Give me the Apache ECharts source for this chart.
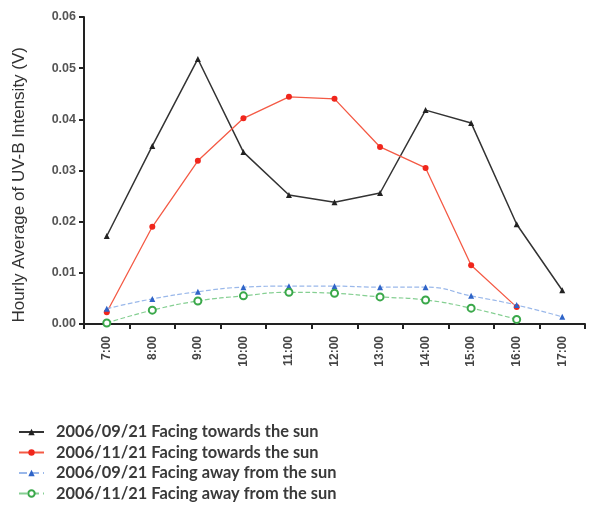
<!DOCTYPE html>
<html><head><meta charset="utf-8">
<script src="https://cdn.jsdelivr.net/npm/echarts@6/dist/echarts.min.js"></script>
<style>html,body{margin:0;padding:0;background:#fff}#c{width:589px;height:510px}</style>
</head><body><div id="c"></div>
<script>
var categories = ['7:00','8:00','9:00','10:00','11:00','12:00','13:00','14:00','15:00','16:00','17:00'];
var sepTowards = [0.0172,0.0348,0.0518,0.0336,0.0252,0.0238,0.0256,0.0418,0.0393,0.0195,0.0066];
var novTowards = [0.0023,0.0190,0.0319,0.0402,0.0444,0.0440,0.0346,0.0305,0.0115,0.0033,null];
var sepAway = [0.0030,0.0049,0.0063,0.0072,0.0074,0.0074,0.0072,0.0072,0.0055,0.0037,0.0014];
var novAway = [0.0002,0.0027,0.0045,0.0055,0.0062,0.0060,0.0053,0.0047,0.0031,0.0009,null];
var seriesNames = ['2006/09/21 Facing towards the sun','2006/11/21 Facing towards the sun','2006/09/21 Facing away from the sun','2006/11/21 Facing away from the sun'];
var yTitle = 'Hourly Average of UV-B Intensity (V)';

var chart = echarts.init(document.getElementById('c'));
chart.setOption({
  animation:false,
  grid:{left:84,right:4,top:17,bottom:186,containLabel:false},
  graphic:[{type:'text',left:11,top:47,rotation:Math.PI/2,
    style:{text:yTitle,fontFamily:'Liberation Sans',fontSize:17,fill:'#333',x:0,y:0}}],
  legend:{
    orient:'vertical',left:13,top:419,itemGap:4.5,itemWidth:25,itemHeight:8,
    textStyle:{fontFamily:'Lato',fontSize:16.4,fontWeight:'bold',color:'#3a3a3a',padding:[0,0,0,7]},
    data:seriesNames
  },
  xAxis:{
    type:'category',data:categories,boundaryGap:true,
    axisLine:{lineStyle:{color:'#222',width:2}},
    axisTick:{show:true,length:5,lineStyle:{color:'#222',width:2}},
    axisLabel:{rotate:90,fontFamily:'Liberation Sans',fontSize:12,fontWeight:'bold',color:'#444',margin:12}
  },
  yAxis:{
    type:'value',min:0,max:0.06,interval:0.01,
    axisLine:{show:true,lineStyle:{color:'#222',width:2}},
    axisTick:{show:true,length:5,lineStyle:{color:'#222',width:2}},
    splitLine:{show:false},
    axisLabel:{fontFamily:'Liberation Sans',fontSize:12.5,fontWeight:'bold',color:'#555',margin:8,
      formatter:function(v){return v.toFixed(2);}}
  },
  series:[
    {name:seriesNames[0],type:'line',data:sepTowards,symbol:'triangle',symbolSize:6,
      itemStyle:{color:'#222'},lineStyle:{color:'#333',width:1.5}},
    {name:seriesNames[1],type:'line',data:novTowards,symbol:'circle',symbolSize:6,
      itemStyle:{color:'#f0261c'},lineStyle:{color:'#f45a45',width:1.3}},
    {name:seriesNames[2],type:'line',data:sepAway,symbol:'triangle',symbolSize:6,smooth:true,
      itemStyle:{color:'#2f64c8'},lineStyle:{color:'#9ab8ea',width:1.2,type:'dashed'}},
    {name:seriesNames[3],type:'line',data:novAway,symbol:'emptyCircle',symbolSize:7,smooth:true,
      itemStyle:{color:'#3aa84a',borderWidth:1.5},lineStyle:{color:'#85cf92',width:1.2,type:'dashed'}}
  ]
});
</script></body></html>
